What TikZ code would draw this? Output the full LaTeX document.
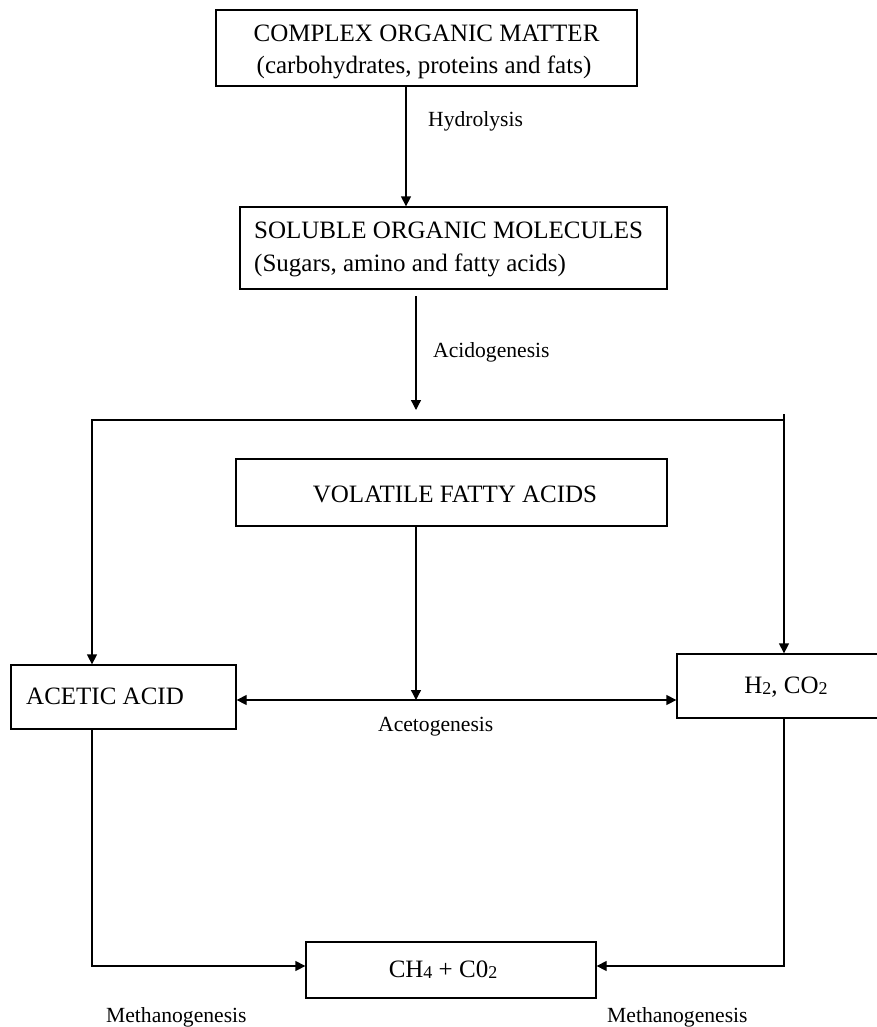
\documentclass[tikz,border=0pt]{standalone}
\usepackage{fontspec}
\setmainfont{Liberation Serif}
\usetikzlibrary{arrows.meta}
\newcommand{\sbs}[1]{\raisebox{-1pt}{\fontsize{18}{18}\selectfont #1}}
\begin{document}
\begin{tikzpicture}[x=1pt,y=-1pt,
 box/.style={draw, line width=1.3pt, inner sep=0pt, rectangle},
 txt/.style={font=\fontsize{25}{30}\selectfont, inner sep=0pt, anchor=base},
 txtl/.style={txt, anchor=base west},
 lab/.style={font=\fontsize{21.6}{26}\selectfont, inner sep=0pt, anchor=base west},
 arr/.style={line width=1.3pt, -{Triangle[length=10pt,width=10pt]}},
 arrb/.style={line width=1.3pt, {Triangle[length=10pt,width=10pt]}-{Triangle[length=10pt,width=10pt]}}]
\useasboundingbox (0,0) rectangle (877,1027);

\node[box, minimum width=421pt, minimum height=76pt] (top) at (426.5,48) {};
\node[txt] (top1) at (426.5,42) {COMPLEX ORGANIC MATTER};
\node[txt] (top2) at (424,74) {(carbohydrates, proteins and fats)};

\node[box, minimum width=427pt, minimum height=82pt] (sol) at (453.5,248) {};
\node[txtl] (sol1) at (254,238) {SOLUBLE ORGANIC MOLECULES};
\node[txtl] (sol2) at (254,271) {(Sugars, amino and fatty acids)};

\node[box, minimum width=431pt, minimum height=67pt] (vfa) at (451.5,492.5) {};
\node[txt] (vfat) at (455,502) {VOLATILE FATTY ACIDS};

\node[box, minimum width=225pt, minimum height=64pt] (acetic) at (123.5,697) {};
\node[txtl] (acetict) at (26,704) {ACETIC ACID};

\node[box, minimum width=218pt, minimum height=64pt] (h2) at (786,686) {};
\node[txt] (h2t) at (786,693) {H\sbs{2}, CO\sbs{2}};

\node[box, minimum width=290pt, minimum height=56pt] (ch4) at (451,970) {};
\node[txt] (ch4t) at (443,977.5) {CH\sbs{4} + C0\sbs{2}};

\coordinate (acA) at (416,296);
\coordinate (acB) at (416,410);
\coordinate (sl) at (92,420);
\coordinate (sr) at (784,420);
\coordinate (st) at (784,414);
\coordinate (mid) at (416,700);

\draw[arr] ([xshift=-20.5pt]top.south) -- ([xshift=-47.5pt]sol.north);
\draw[arr] (acA) -- (acB);
\draw[arr] (sr) -- (sl) -- (sl |- acetic.north);
\draw[arr] (st) -- (st |- h2.north);
\draw[arr] ([xshift=-35.5pt]vfa.south) -- (mid);
\draw[arrb] (acetic.east |- mid) -- (h2.west |- mid);
\draw[arr] (sl |- acetic.south) |- ([yshift=4pt]ch4.west);
\draw[arr] (st |- h2.south) |- ([yshift=4pt]ch4.east);

\node[lab] (hyd) at (428,127) {Hydrolysis};
\node[lab] (acid) at (433,357) {Acidogenesis};
\node[lab] (aceto) at (378,731) {Acetogenesis};
\node[lab] (meth1) at (106,1022) {Methanogenesis};
\node[lab] (meth2) at (607,1022) {Methanogenesis};
\end{tikzpicture}
\end{document}
